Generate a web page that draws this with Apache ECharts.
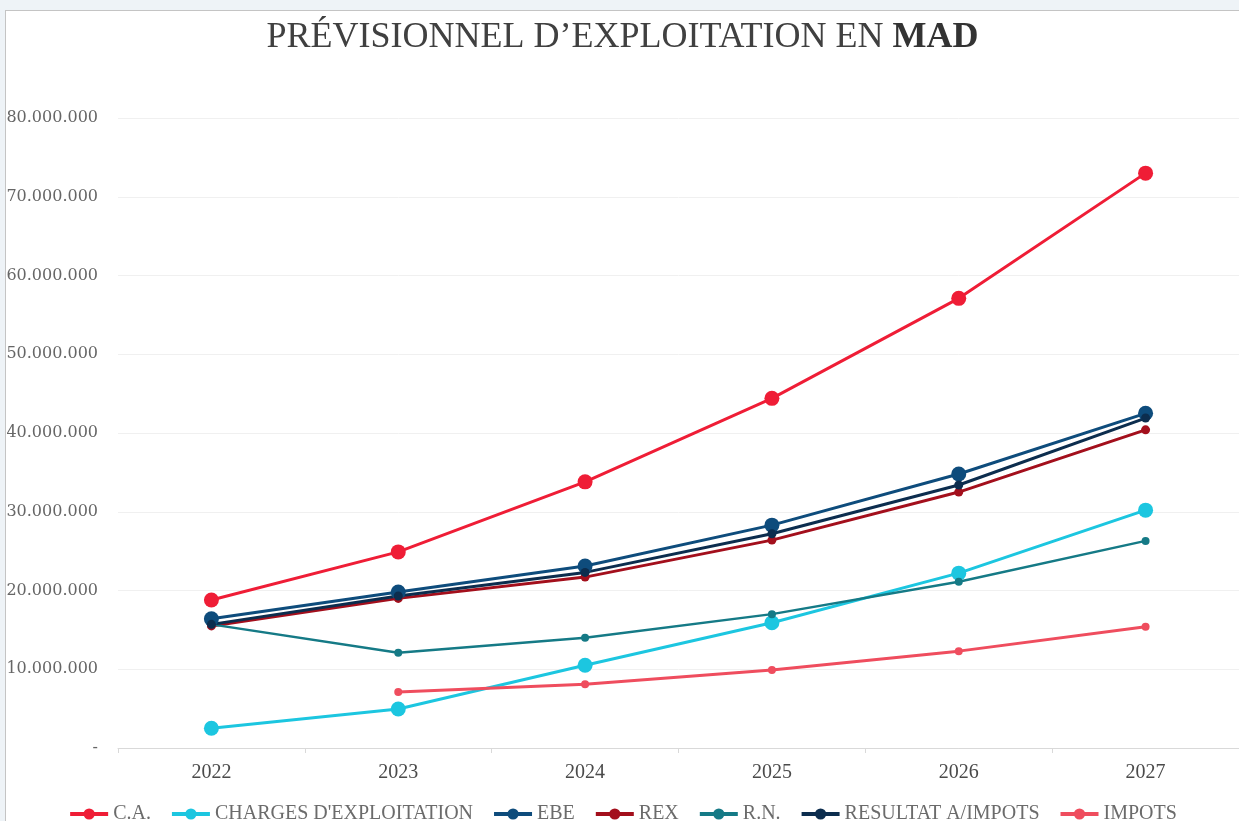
<!DOCTYPE html>
<html lang="fr">

<head>
    <meta charset="UTF-8">
    <title>Prévisionnel d'exploitation en MAD</title>
    <style>
        body {
            margin: 0px;
            padding: 0px;
            background: #eef3f7;
            overflow: hidden;
        }

        #previsionnel {
            position: absolute;
            left: 5px;
            top: 10px;
            width: 1234px;
            height: 811px;
            background: #ffffff;
            border-left: 1px solid #c4c4c4;
            border-top: 1px solid #c4c4c4;
            box-sizing: border-box;
        }
    </style>
</head>

<body>
    <div id="previsionnel"></div>
    <script src="https://cdn.jsdelivr.net/npm/echarts@6/dist/echarts.min.js"></script>
    <script>
        // données
        var annees = ['2022', '2023', '2024', '2025', '2026', '2027'];
        var ca = [18800000, 24900000, 33800000, 44400000, 57100000, 73000000];
        var charges = [2500000, 4950000, 10500000, 15900000, 22200000, 30200000];
        var ebe = [16400000, 19800000, 23100000, 28300000, 34800000, 42500000];
        var rex = [15500000, 19000000, 21700000, 26400000, 32500000, 40400000];
        var rn = [15700000, 12100000, 14000000, 17000000, 21100000, 26300000];
        var resultatAvantImpots = [15700000, 19300000, 22300000, 27200000, 33400000, 41900000];
        var impots = [null, 7100000, 8100000, 9900000, 12300000, 15400000];

        var serif = 'Liberation Serif';

        function serie(name, data, color, size, width) {
            return {
                name: name,
                type: 'line',
                data: data,
                symbol: 'circle',
                symbolSize: size,
                showAllSymbol: true,
                itemStyle: { color: color },
                lineStyle: { color: color, width: width },
                emphasis: { disabled: true }
            };
        }

        var myChart = echarts.init(document.getElementById('previsionnel'));

        var option = {
            animation: false,
            title: {
                left: 'center',
                top: 4,
                text: '{a|PRÉVISIONNEL D’EXPLOITATION EN }{b|MAD}',
                textStyle: {
                    fontWeight: 'normal',
                    rich: {
                        a: { fontFamily: serif, fontSize: 36, color: '#404040', fontWeight: 'normal' },
                        b: { fontFamily: serif, fontSize: 36, color: '#333333', fontWeight: 'bold' }
                    }
                }
            },
            legend: {
                bottom: -8,
                left: 'center',
                itemWidth: 38,
                itemHeight: 14,
                itemGap: 19,
                lineStyle: { width: 4 },
                textStyle: { fontFamily: serif, fontSize: 20, color: '#6b6b6b' }
            },
            grid: {
                left: 112,
                right: 0,
                top: 107,
                bottom: 73,
                containLabel: false,
                outerBoundsMode: 'none'
            },
            xAxis: {
                type: 'category',
                data: annees,
                axisLine: { lineStyle: { color: '#d9d9d9', width: 1 } },
                axisTick: { show: true, length: 5, lineStyle: { color: '#d9d9d9' } },
                axisLabel: { margin: 15, fontFamily: serif, fontSize: 20, color: '#4a4a4a' }
            },
            yAxis: {
                type: 'value',
                min: 0,
                max: 80000000,
                interval: 10000000,
                axisLine: { show: false },
                axisTick: { show: false },
                splitLine: { lineStyle: { color: '#f0f0f0' } },
                axisLabel: {
                    margin: 20,
                    fontFamily: 'DejaVu Serif',
                    fontSize: 16,
                    color: '#666666',
                    formatter: function (v) {
                        if (v === 0) return '-';
                        return String(v).replace(/\B(?=(\d{3})+(?!\d))/g, '.');
                    }
                }
            },
            series: [
                serie('C.A.', ca, '#ef1d36', 15, 3),
                serie('CHARGES D\'EXPLOITATION', charges, '#1cc6e0', 15, 3),
                serie('EBE', ebe, '#0e4c7c', 15, 3),
                serie('REX', rex, '#a30f1c', 9, 3),
                serie('R.N.', rn, '#157a86', 8, 2.5),
                serie('RESULTAT A/IMPOTS', resultatAvantImpots, '#0c2d4e', 9, 3),
                serie('IMPOTS', impots, '#ef4d5e', 8, 3)
            ]
        };

        myChart.setOption(option);
    </script>
</body>

</html>
